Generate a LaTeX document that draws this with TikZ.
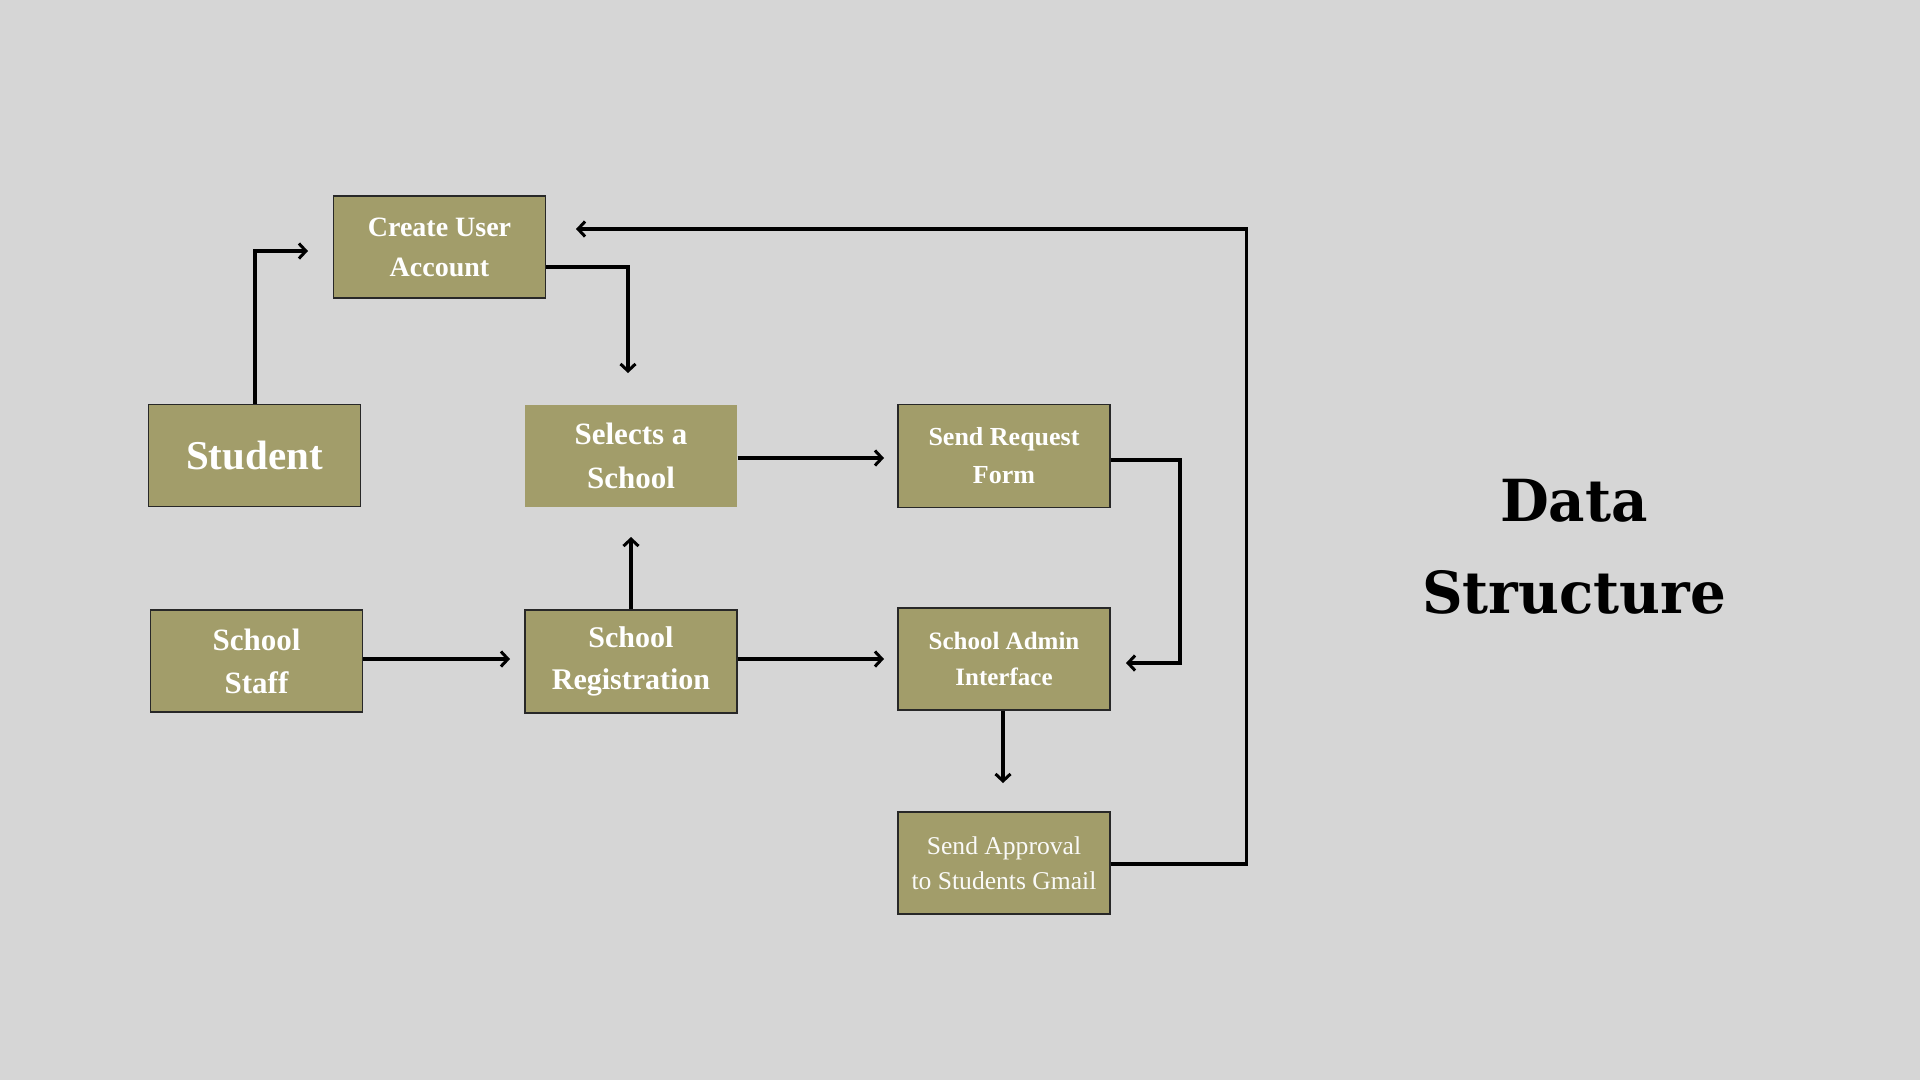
\documentclass[tikz,border=0pt]{standalone}
\usepackage{fontspec}
\setmainfont{Liberation Serif}
\newfontfamily\titlefont{DejaVu Serif}[FakeStretch=0.97]
\usetikzlibrary{arrows.meta,calc}
\definecolor{bg}{RGB}{214,214,214}
\definecolor{boxfill}{RGB}{162,157,106}
\definecolor{boxline}{RGB}{40,40,40}
\tikzset{
  box/.style={draw=boxline, line width=1.2pt, fill=boxfill, minimum width=212pt,
    minimum height=102pt, text=white, align=center, inner sep=0pt},
  nobox/.style={box, draw=none},
  arr/.style={line width=3.5pt, line join=miter,
    -{Straight Barb[length=7pt,width=15pt,line width=3pt]}}
}
\begin{document}
\begin{tikzpicture}[x=1pt,y=-1pt]
\fill[bg] (0,0) rectangle (1920,1080);
\useasboundingbox (0,0) rectangle (1920,1080);

\node[box, font=\fontsize{28}{40}\selectfont\bfseries] (create) at (439.5,247) {Create User\\ Account};
\node[box, font=\fontsize{41}{48}\selectfont\bfseries] (student) at (254.5,455.5) {Student};
\node[nobox, font=\fontsize{31}{44}\selectfont\bfseries] (selects) at (631,456) {Selects a\\ School};
\node[box, font=\fontsize{31}{43}\selectfont\bfseries] (staff) at (256.5,661) {School\\ Staff};
\node[box, font=\fontsize{30}{42}\selectfont\bfseries, minimum height=103pt] (reg) at (631,661.5) {School\\ Registration};
\node[box, font=\fontsize{26}{38}\selectfont\bfseries, minimum height=103pt] (request) at (1004,456) {Send Request\\ Form};
\node[box, font=\fontsize{25}{35.5}\selectfont\bfseries] (admin) at (1004,659) {School Admin\\ Interface};
\node[box, font=\fontsize{25.6}{35}\selectfont, text=white!95!boxfill] (approval) at (1004,863) {Send Approval\\ to Students Gmail};

\node[font=\titlefont\bfseries\fontsize{58}{92}\selectfont, align=center, text=black] (title) at (1574,547) {Data\\ Structure};

\coordinate (e1) at (308,251);
\coordinate (e2) at (628,373);
\coordinate (e3) at (884,458);
\coordinate (e4) at (1126,663);
\coordinate (e5) at (1003,783);
\coordinate (e6) at (576,229);
\coordinate (e7) at (510,659);
\coordinate (e8) at (884,659);
\coordinate (e9) at (631,537);

\draw[arr] (student.north -| 255,0) |- (e1);
\draw[arr] (create.east |- 0,267) -| (e2);
\draw[arr] (selects.east |- e3) -- (e3);
\draw[arr] (request.east |- 0,460) -- (1180,460) |- (e4);
\draw[arr] (admin.south -| e5) -- (e5);
\draw[arr] (approval.east |- 0,864) -- (1246.5,864) |- (e6);
\draw[arr] (staff.east |- e7) -- (e7);
\draw[arr] (reg.east |- e8) -- (e8);
\draw[arr] (reg.north) -- (e9);
\end{tikzpicture}
\end{document}
